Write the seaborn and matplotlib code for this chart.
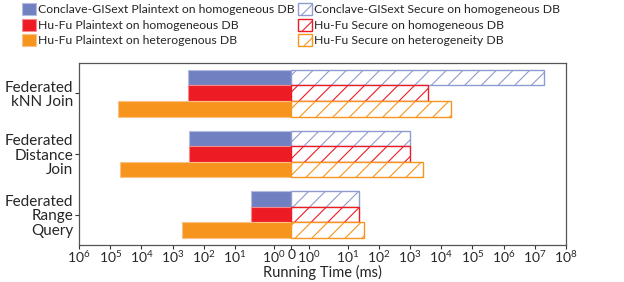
import pandas as pd
import matplotlib
matplotlib.use("Agg")
import matplotlib.pyplot as plt
import seaborn as sns
from matplotlib.patches import Patch
from matplotlib.ticker import NullLocator

queries = ["Federated\nkNN Join", "Federated\nDistance\nJoin", "Federated\nRange\nQuery"]
systems = ["Conclave-GISext homo", "Hu-Fu homo", "Hu-Fu hetero"]
plain_conclave = [320, 290, 3.1]
plain_hufu_homo = [320, 290, 3.1]
plain_hufu_hetero = [57000, 47000, 490]
secure_conclave = [2.0e7, 1020, 23]
secure_hufu_homo = [3700, 1020, 23]
secure_hufu_hetero = [20000, 2600, 33]

plain_labels = ["Conclave-GISext Plaintext on homogeneous DB",
                "Hu-Fu Plaintext on homogeneous DB",
                "Hu-Fu Plaintext on heterogenous DB"]
secure_labels = ["Conclave-GISext Secure on homogeneous DB",
                 "Hu-Fu Secure on homogeneous DB",
                 "Hu-Fu Secure on heterogeneity DB"]

colors = ["#7180C0", "#ED1C24", "#F7941D"]
light = ["#B4BCE0", "#F58A8E", "#FAC185"]

sns.set_style("white")
plt.rcParams["font.family"] = ["Lato", "DejaVu Sans"]
plt.rcParams["mathtext.fontset"] = "custom"
plt.rcParams["mathtext.rm"] = "Lato"
plt.rcParams["mathtext.it"] = "Lato"
plt.rcParams["hatch.linewidth"] = 0.8

rows_plain = []
rows_secure = []
for s, pv, sv in zip(systems,
                     [plain_conclave, plain_hufu_homo, plain_hufu_hetero],
                     [secure_conclave, secure_hufu_homo, secure_hufu_hetero]):
    for q, p, v in zip(queries, pv, sv):
        rows_plain.append({"query": q, "system": s, "time": -p})
        rows_secure.append({"query": q, "system": s, "time": v})
df_plain = pd.DataFrame(rows_plain)
df_secure = pd.DataFrame(rows_secure)

fig = plt.figure(figsize=(6.24, 2.82), dpi=100)
ax = fig.add_axes([0.1266, 0.131, 0.7804, 0.646])

sns.barplot(data=df_plain, y="query", x="time", hue="system", hue_order=systems,
            order=queries, palette=colors, orient="h", width=0.77, saturation=1,
            errorbar=None, legend=False, ax=ax)
sns.barplot(data=df_secure, y="query", x="time", hue="system", hue_order=systems,
            order=queries, palette=colors, orient="h", width=0.77, saturation=1,
            errorbar=None, legend=False, ax=ax)

for i, cont in enumerate(ax.containers):
    k = i % 3
    for bar in cont:
        if i < 3:
            bar.set_edgecolor(light[k])
            bar.set_linewidth(0.8)
        else:
            bar.set_facecolor("white")
            bar.set_edgecolor(colors[k] if k != 0 else "#8F9AD0")
            bar.set_hatch("//")
            bar.set_linewidth(1.0)

ax.set_xscale("symlog", linthresh=2, linscale=1)
ax.set_xlim(-1e6, 1e8)
ax.set_ylim(2.5, -0.5)

ticks = [-10.0 ** k for k in range(6, -1, -1)] + [0] + [10.0 ** k for k in range(0, 9)]
labels = [f"$10^{{{k}}}$" for k in range(6, -1, -1)] + ["0"] + [f"$10^{{{k}}}$" for k in range(0, 9)]
ax.set_xticks(ticks)
ax.set_xticklabels(labels, fontsize=10)
ax.xaxis.set_minor_locator(NullLocator())
ax.tick_params(axis="x", which="major", length=3, width=0.8, pad=0, bottom=True, color="#333333")
ax.tick_params(axis="y", length=3, width=0.8, pad=1, left=True, labelsize=11, color="#333333")
for lab in ax.get_yticklabels():
    lab.set_horizontalalignment("right")
    lab.set_linespacing(1.05)

ax.set_xlabel("Running Time (ms)", fontsize=10.5, labelpad=0)
ax.set_ylabel("")
for sp in ax.spines.values():
    sp.set_color("#555555")
    sp.set_linewidth(0.9)

handles = [Patch(facecolor=c, edgecolor=l, linewidth=0.8) for c, l in zip(colors, light)]
handles += [Patch(facecolor="white", edgecolor=(c if i else "#8F9AD0"), hatch="//", linewidth=1.0)
            for i, c in enumerate(colors)]
fig.legend(handles, plain_labels + secure_labels, loc="upper left",
           bbox_to_anchor=(0.022, 1.02), ncol=2, frameon=False, fontsize=8.8,
           handlelength=1.1, handleheight=1.15, handletextpad=0.2,
           labelspacing=0.28, columnspacing=0.3, borderpad=0.2)

plt.savefig("out.png", dpi=100)
plt.close()
